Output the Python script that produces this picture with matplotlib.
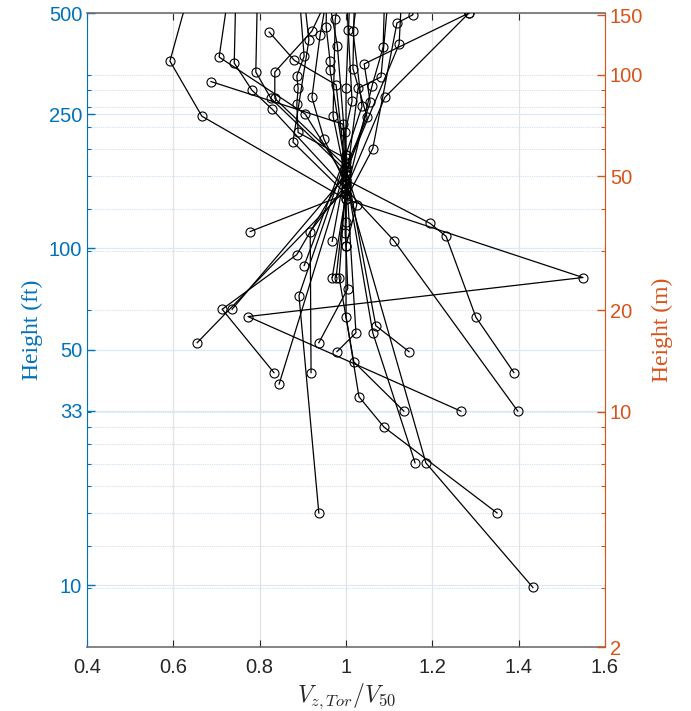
import numpy as np
import matplotlib.pyplot as plt
from matplotlib.ticker import NullFormatter

# wind profiles: V_z/V50 ratio and height in ft (points above 500 ft are clipped)
profile_ratios = [
    [0.64, 0.592, 0.666, 1.00, 1.549, 0.773, 1.266],
    [0.73, 0.706, 0.905, 1.00, 1.195, 1.232, 1.301, 1.389],
    [0.745, 0.741, 0.782, 0.829, 1.00, 1.111, 1.398],
    [0.795, 0.791, 0.826, 1.00, 0.886, 0.713, 0.833],
    [0.687, 0.993, 1.00, 0.655],
    [0.822, 0.880, 0.977, 1.00, 0.736],
    [0.97, 0.921, 0.835, 0.835, 1.00, 0.845],
    [0.89, 0.903, 0.886, 0.889, 0.886, 0.889, 1.00, 0.891, 0.937],
    [0.90, 0.914, 0.877, 1.00, 0.778],
    [0.96, 0.940, 0.921, 0.949, 1.00, 0.917, 0.919],
    [0.955, 0.954, 0.963, 0.963, 1.00, 1.023, 0.979],
    [0.99, 0.975, 0.970, 1.00, 0.984, 1.018, 1.134],
    [1.00, 1.005, 1.014, 0.998, 1.00, 0.998, 1.00, 1.004, 0.937],
    [1.03, 1.016, 1.037, 1.00, 1.00, 1.03, 1.088, 1.35],
    [1.02, 1.016, 1.049, 1.00, 1.069, 1.146],
    [1.285, 1.042, 1.056, 1.00, 1.062, 1.16],
    [1.10, 1.081, 1.028, 1.00, 1.185, 1.433],
    [1.09, 1.086, 1.060, 1.00, 0.968],
    [1.285, 1.09, 1.00, 0.977],
    [1.15, 1.155, 1.118, 1.062, 1.00, 1.00],
    [1.13, 1.123, 1.00, 1.025, 1.00],
    [0.955, 0.98, 1.00, 0.903],
    [1.01, 1.00, 1.00, 0.968],
]
profile_heights_ft = [
    [600, 360, 247, 140, 82, 62.8, 32.9],
    [600, 370, 251, 160, 118.7, 108.6, 62.5, 42.8],
    [600, 355, 295, 259, 150, 105.6, 32.9],
    [600, 334, 279, 170, 95.9, 66, 42.8],
    [313, 234, 150, 52.5],
    [439, 362, 306, 165, 66],
    [600, 442, 334, 279, 175, 39.6],
    [600, 372, 325, 299, 268, 221, 185, 72.5, 16.4],
    [600, 416, 207, 145, 112.3],
    [600, 430, 281, 211, 155, 112.3, 42.8],
    [600, 455, 360, 339, 170, 56.2, 49.4],
    [600, 480, 247, 160, 82, 46.1, 32.9],
    [600, 446, 274, 221, 180, 111, 102, 76, 52.5],
    [600, 443, 264, 190, 62.8, 36.3, 29.5, 16.4],
    [600, 342, 245, 175, 59, 49.4],
    [500, 353, 272, 165, 56.2, 23.1],
    [600, 323, 299, 155, 23.1, 9.86],
    [600, 396, 303, 145, 82],
    [500, 281, 150, 82],
    [600, 494, 467, 198, 140, 120],
    [600, 404, 170, 135, 102],
    [600, 400, 190, 89],
    [600, 300, 175, 105],
]

ft_ticks = [10, 33, 50, 100, 250, 500]
m_ticks = [2, 10, 20, 50, 100, 150]
m_minor = [3, 4, 5, 6, 7, 8, 9, 10, 20, 30, 40, 50, 60, 70, 80, 90, 100]
x_ticks = [0.4, 0.6, 0.8, 1.0, 1.2, 1.4, 1.6]
x_labels = ['0.4', '0.6', '0.8', '1', '1.2', '1.4', '1.6']

FT = 0.3048
blue = '#0072BD'
orange = '#D95319'

plt.rcParams['font.family'] = ['Liberation Sans', 'DejaVu Sans']
plt.rcParams['mathtext.fontset'] = 'cm'

fig = plt.figure(figsize=(6.91, 7.11), dpi=100)
ax = fig.add_axes([0.126, 0.090, 0.7495, 0.8917])

for xs, hs in zip(profile_ratios, profile_heights_ft):
    ax.plot(xs, hs, '-o', color='black', lw=0.9, ms=6.5, mfc='none', mew=0.8, zorder=3)

ax.set_yscale('log')
ax.set_xlim(0.4, 1.6)
ax.set_ylim(2 / FT, 500)
ax.set_xticks(x_ticks)
ax.set_xticklabels(x_labels)
ax.set_yticks(ft_ticks)
ax.set_yticklabels([str(t) for t in ft_ticks])
ax.set_yticks([m / FT for m in m_minor], minor=True)
ax.yaxis.set_minor_formatter(NullFormatter())

# grid: vertical gray, horizontal light blue
ax.xaxis.grid(True, color='#e3e3e3', lw=0.9)
ax.yaxis.grid(True, which='minor', color='#cfe1f2', lw=0.8, ls=(0, (1, 1)))
ax.yaxis.grid(True, which='major', color='#dde9f6', lw=0.9)
ax.set_axisbelow(True)

ax.tick_params(axis='x', direction='in', top=True, length=5, width=0.8,
               colors='#262626', labelsize=14.5, pad=8)
ax.tick_params(axis='y', which='major', direction='in', length=6, width=1,
               colors=blue, labelsize=14.5)
ax.tick_params(axis='y', which='minor', direction='in', length=3, width=0.8, colors=blue)
for s in ['top', 'bottom']:
    ax.spines[s].set_color('#6e6e6e')
    ax.spines[s].set_linewidth(1.2)
ax.spines['left'].set_color(blue)
ax.spines['right'].set_visible(False)

ax.set_xlabel(r'$V_{z,Tor}/V_{50}$', fontsize=17, color='#262626', labelpad=3)
ax.set_ylabel('Height (ft)', family='Liberation Serif', fontsize=17, color=blue, labelpad=4)

ax2 = ax.twinx()
ax2.set_yscale('log')
ax2.set_ylim(2, 500 * FT)
ax2.set_yticks(m_ticks)
ax2.set_yticklabels([str(t) for t in m_ticks])
ax2.set_yticks(m_minor, minor=True)
ax2.yaxis.set_minor_formatter(NullFormatter())
ax2.tick_params(axis='y', which='major', direction='in', length=6, width=1,
                colors=orange, labelsize=14.5)
ax2.tick_params(axis='y', which='minor', direction='in', length=3, width=0.8, colors=orange)
ax2.spines['right'].set_color(orange)
for s in ['top', 'bottom', 'left']:
    ax2.spines[s].set_visible(False)
ax2.set_ylabel('Height (m)', family='Liberation Serif', fontsize=17, color=orange, labelpad=6)

fig.savefig('out.png', dpi=100)
